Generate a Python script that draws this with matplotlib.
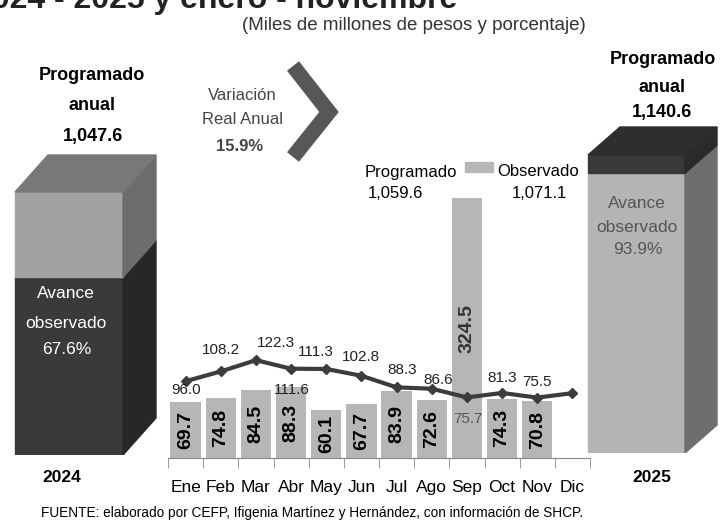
import matplotlib
matplotlib.use('Agg')
import matplotlib.pyplot as plt
import numpy as np
from matplotlib.patches import Polygon, Rectangle
from matplotlib.lines import Line2D

# Datos (miles de millones de pesos)
meses = ['Ene', 'Feb', 'Mar', 'Abr', 'May', 'Jun', 'Jul', 'Ago', 'Sep', 'Oct', 'Nov', 'Dic']
programado = [96.0, 108.2, 122.3, 111.6, 111.3, 102.8, 88.3, 86.6, 75.7, 81.3, 75.5, 81.0]
observado = [69.7, 74.8, 84.5, 88.3, 60.1, 67.7, 83.9, 72.6, 324.5, 74.3, 70.8]
etiquetas_prog = ['96.0', '108.2', '122.3', '111.6', '111.3', '102.8', '88.3', '86.6', '75.7', '81.3', '75.5', '']
anual_2024 = 1047.6
avance_2024 = 67.6
anual_2025 = 1140.6
avance_2025 = 93.9
prog_acum = 1059.6
obs_acum = 1071.1
var_real = 15.9

plt.rcParams['font.family'] = ['Liberation Sans', 'DejaVu Sans']

W, H = 721, 522
fig = plt.figure(figsize=(W / 100, H / 100), dpi=100)


def px(x, y):
    # pixeles (desde arriba) -> fraccion de figura
    return x / W, 1 - y / H


def texto(x, y, s, **kw):
    fx, fy = px(x, y)
    fig.text(fx, fy, s, ha=kw.pop('ha', 'center'), va=kw.pop('va', 'center'), **kw)


# ---- grafica mensual ----
ax = fig.add_axes([168 / W, 64 / H, 422 / W, 336 / H])
x = np.arange(len(meses))
barras = ax.bar(x[:len(observado)], observado, width=0.86, color='#b6b6b6', zorder=1)
ax.plot(x, programado, color='#3c3c3c', lw=3, marker='D', ms=5, zorder=3)
ax.set_xlim(-0.5, 11.5)
ax.set_ylim(0, 420)
for s in ['top', 'right', 'left']:
    ax.spines[s].set_visible(False)
ax.spines['bottom'].set_color('#888888')
ax.set_yticks([])
ax.set_xticks(x)
ax.set_xticklabels(meses, fontsize=12.5)
ax.tick_params(axis='x', which='major', length=0, pad=16)
ax.set_xticks(np.arange(-0.5, 12, 1), minor=True)
ax.tick_params(axis='x', which='minor', length=7, color='#888888')
ax.patch.set_alpha(0)

# etiquetas de barras
for i, b in enumerate(barras):
    col = 'black' if i != 8 else '#333333'
    ax.text(b.get_x() + b.get_width() / 2, b.get_height() / 2, f'{observado[i]:.1f}',
            rotation=90, ha='center', va='center', fontsize=14, fontweight='bold', color=col, zorder=4)

# etiquetas de la linea (desplazamiento en pixeles)
desp = [(0, -9), (0, 21), (20, 17), (1, -21), (-10, 17), (0, 19), (6, 17), (6, 9), (1, -22), (0, 15), (0, 16), (0, 0)]
for i, lab in enumerate(etiquetas_prog):
    if not lab:
        continue
    col = '#555555' if i == 8 else '#222222'
    ax.annotate(lab, (x[i], programado[i]), xytext=desp[i], textcoords='offset pixels',
                ha='center', va='center', fontsize=11, color=col, zorder=5)

# leyenda
texto(411, 172, 'Programado', fontsize=12)
texto(395, 193, f'{prog_acum:,.1f}', fontsize=12)
fig.patches.append(Rectangle(px(465, 172), 28 / W, 10 / H, transform=fig.transFigure,
                             color='#b6b6b6', figure=fig))
texto(538, 172, 'Observado', fontsize=12)
texto(539, 193, f'{obs_acum:,.1f}', fontsize=12)


# ---- barras 3D anuales ----
def barra3d(ax3, total, pct, x0, x1, dx, dy, c_abajo, c_arriba, c_top):
    h = total * pct / 100
    ax3.add_patch(Polygon([(x0, 0), (x1, 0), (x1, h), (x0, h)], color=c_abajo[0]))
    ax3.add_patch(Polygon([(x1, 0), (x1 + dx, dy), (x1 + dx, h + dy), (x1, h)], color=c_abajo[1]))
    ax3.add_patch(Polygon([(x0, h), (x1, h), (x1, total), (x0, total)], color=c_arriba[0]))
    ax3.add_patch(Polygon([(x1, h), (x1 + dx, h + dy), (x1 + dx, total + dy), (x1, total)], color=c_arriba[1]))
    ax3.add_patch(Polygon([(x0, total), (x1, total), (x1 + dx, total + dy), (x0 + dx, total + dy)], color=c_top))


ax_l = fig.add_axes([0, 67 / H, 170 / W, 330 / H])
esc_l = anual_2024 / 263
ax_l.set_xlim(0, 170)
ax_l.set_ylim(0, 330 * esc_l)
ax_l.axis('off')
barra3d(ax_l, anual_2024, avance_2024, 15, 123, 33, 37 * esc_l,
        ('#3a3a3a', '#272727'), ('#a2a2a2', '#6d6d6d'), '#787878')

ax_r = fig.add_axes([575 / W, 69 / H, 146 / W, 330 / H])
esc_r = anual_2025 / 298
ax_r.set_xlim(0, 146)
ax_r.set_ylim(0, 330 * esc_r)
ax_r.axis('off')
barra3d(ax_r, anual_2025, avance_2025, 13, 110, 32, 28 * esc_r,
        ('#b4b4b4', '#6e6e6e'), ('#393939', '#2a2a2a'), '#2e2e2e')

# textos de las barras anuales
texto(92, 75, 'Programado', fontsize=13, fontweight='bold')
texto(92, 105, 'anual', fontsize=13, fontweight='bold')
texto(93, 137, f'{anual_2024:,.1f}', fontsize=13, fontweight='bold')
texto(66, 293, 'Avance', fontsize=12.5, color='white')
texto(66, 323, 'observado', fontsize=12.5, color='white')
texto(67, 350, f'{avance_2024}%', fontsize=12.5, color='white')
texto(62, 477, '2024', fontsize=12.5, fontweight='bold')

texto(663, 60, 'Programado', fontsize=13, fontweight='bold')
texto(662, 88, 'anual', fontsize=13, fontweight='bold')
texto(662, 112, f'{anual_2025:,.1f}', fontsize=13, fontweight='bold')
texto(637, 203, 'Avance', fontsize=12.5, color='#555555')
texto(637, 228, 'observado', fontsize=12.5, color='#555555')
texto(638, 250, f'{avance_2025}%', fontsize=12.5, color='#555555')
texto(652, 477, '2025', fontsize=12.5, fontweight='bold')

# variacion real
texto(242, 95, 'Variación', fontsize=12, color='#444444')
texto(242, 119, 'Real Anual', fontsize=12, color='#444444')
texto(240, 147, f'{var_real}%', fontsize=12, color='#444444', fontweight='bold')
xs, ys = zip(px(293, 66), px(329, 112), px(293, 157))
fig.add_artist(Line2D(xs, ys, transform=fig.transFigure, color='#575757', lw=11,
                      solid_joinstyle='miter', solid_capstyle='butt'))

# titulo (recortado en el borde superior, como en el original) y subtitulo
texto(-26, 8, '2024 - 2025 y enero - noviembre', ha='left', va='baseline',
      fontsize=23, fontweight='bold', color='#222222')
texto(414, 25, '(Miles de millones de pesos y porcentaje)', fontsize=13.5, color='#333333')
texto(312, 513, 'FUENTE: elaborado por CEFP, Ifigenia Martínez y Hernández, con información de SHCP.',
      fontsize=9.8, color='black')

fig.savefig('out.png', dpi=100)
